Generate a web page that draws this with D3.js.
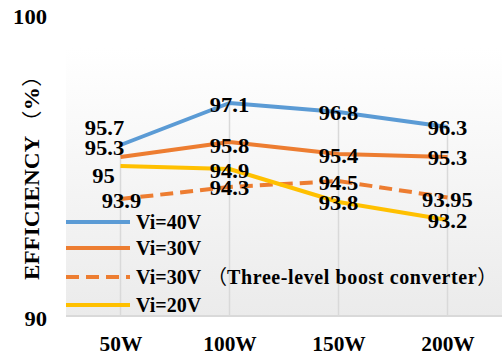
<!DOCTYPE html>
<html>
<head>
<meta charset="utf-8">
<script src="https://cdn.jsdelivr.net/npm/d3@7"></script>
<style>
html,body{margin:0;padding:0;background:#fff;}
svg{display:block;}
text{font-family:"Liberation Serif","Times New Roman",serif;font-weight:bold;fill:#000;}
</style>
</head>
<body>
<svg id="chart" width="502" height="356"></svg>
<script>
const categories = ["50W", "100W", "150W", "200W"];
const seriesNames = ["Vi=40V", "Vi=30V", "Vi=30V（Three-level boost converter）", "Vi=20V"];
const vi40 = [95.7, 97.1, 96.8, 96.3];
const vi30 = [95.3, 95.8, 95.4, 95.3];
const vi30ThreeLevel = [93.9, 94.3, 94.5, 93.95];
const vi20 = [95, 94.9, 93.8, 93.2];
const yTicks = [90, 100];
const yTitleMain = "EFFICIENCY";
const yTitleUnit = "%";

// styling / layout (not data)
const colors = ["#5B9BD5", "#ED7D31", "#ED7D31", "#FFC000"];
const dashes = [null, null, "13,7", null];
// label offsets [dx, dy] per series per category
const labelOffsets = [
  [[-16, -16.5], [0, 2], [0, 1.5], [0, 1]],
  [[-16, -9], [0, 4], [0, 2.5], [0, 1.5]],
  [[1, 2.5], [0, 1.5], [0, 2], [0, 2.5]],
  [[-17, 10.5], [0, 2.5], [0, 1.5], [0, 1]]
];

(function () {
const series = [vi40, vi30, vi30ThreeLevel, vi20];
const svg = d3.select("#chart");
const pl = 66, pr = 502, pt = 48, pb = 316;
const SX = 1.13; // horizontal stretch of number glyphs

const x = d3.scalePoint().domain(categories).range([pl, pr]).padding(0.5);
const y = d3.scaleLinear().domain([90, 100]).range([316, 16]);

// plot background gradient
const defs = svg.append("defs");
const grad = defs.append("linearGradient").attr("id", "bg").attr("x1", 0).attr("y1", 0).attr("x2", 0).attr("y2", 1);
grad.append("stop").attr("offset", "0%").attr("stop-color", "#ffffff");
grad.append("stop").attr("offset", "100%").attr("stop-color", "#ebebeb");
svg.append("rect").attr("x", pl).attr("y", pt).attr("width", pr - pl).attr("height", pb - pt).attr("fill", "url(#bg)");

// drop lines from highest point to axis
svg.append("g").selectAll("line").data(categories).join("line")
  .attr("x1", d => x(d)).attr("x2", d => x(d))
  .attr("y1", (d, i) => y(d3.max(series, s => s[i])))
  .attr("y2", pb)
  .attr("stroke", "#d9d9d9").attr("stroke-width", 1.5);

// x axis line
svg.append("line").attr("x1", pl).attr("x2", pr).attr("y1", pb).attr("y2", pb)
  .attr("stroke", "#d9d9d9").attr("stroke-width", 2);

// lines
const line = d3.line().x((d, i) => x(categories[i])).y(d => y(d));
series.forEach((s, k) => {
  svg.append("path").datum(s).attr("d", line)
    .attr("fill", "none").attr("stroke", colors[k]).attr("stroke-width", 4)
    .attr("stroke-linejoin", "round")
    .attr("stroke-dasharray", dashes[k]);
});

// data labels
series.forEach((s, k) => {
  svg.append("g").selectAll("text").data(s).join("text")
    .attr("transform", (d, i) => `translate(${x(categories[i]) + labelOffsets[k][i][0]},${y(d) + labelOffsets[k][i][1] + 6.8}) scale(${SX},1)`)
    .attr("text-anchor", "middle")
    .attr("font-size", 20)
    .text(d => d);
});

// y ticks
const yAxis = d3.axisLeft(y).tickValues(yTicks).tickSize(0).tickPadding(0).tickFormat(d3.format("d"));
const yg = svg.append("g").attr("transform", "translate(47,0)").call(yAxis);
yg.select(".domain").remove();
yg.selectAll("text").attr("font-size", 20).attr("font-family", "Liberation Serif").attr("font-weight", "bold")
  .attr("fill", "#000").attr("x", 0).attr("dy", "0.32em")
  .attr("transform", d => (d === 100 ? "translate(0,1)" : "translate(0,3)") + ` scale(${SX},1)`);

// x ticks
const xAxis = d3.axisBottom(x).tickSize(0).tickPadding(0);
const xg = svg.append("g").attr("transform", "translate(0,351)").call(xAxis);
xg.select(".domain").remove();
xg.selectAll("text").attr("font-size", 20).attr("font-family", "Liberation Serif").attr("font-weight", "bold")
  .attr("fill", "#000").attr("y", 0).attr("dy", 0).attr("transform", "scale(1.07,1)");

// y title
const yt = svg.append("text").attr("transform", "translate(39,280) rotate(-90) scale(1.16,1)")
  .attr("text-anchor", "start").attr("font-size", 20);
yt.append("tspan").text(yTitleMain);
yt.append("tspan").attr("dx", 2).attr("font-family", "Noto Sans CJK SC").attr("font-weight", "normal").text("（");
yt.append("tspan").text(yTitleUnit);
yt.append("tspan").attr("font-family", "Noto Sans CJK SC").attr("font-weight", "normal").text("）");

// legend
const legendY = [222, 248, 277, 305];
seriesNames.forEach((name, k) => {
  svg.append("line").attr("x1", 66).attr("x2", 130).attr("y1", legendY[k]).attr("y2", legendY[k])
    .attr("stroke", colors[k]).attr("stroke-width", 4).attr("stroke-dasharray", dashes[k]);
  const t = svg.append("text").attr("x", 136).attr("y", legendY[k] + 7).attr("font-size", 20);
  const idx = name.indexOf("（");
  if (idx < 0) {
    t.text(name);
  } else {
    t.append("tspan").text(name.slice(0, idx));
    t.append("tspan").attr("dx", 6).attr("font-family", "Noto Sans CJK SC").attr("font-weight", "normal").text("（");
    t.append("tspan").attr("letter-spacing", 0.6).text(name.slice(idx + 1, name.length - 1));
    t.append("tspan").attr("font-family", "Noto Sans CJK SC").attr("font-weight", "normal").text("）");
  }
});
})();
</script>
</body>
</html>
